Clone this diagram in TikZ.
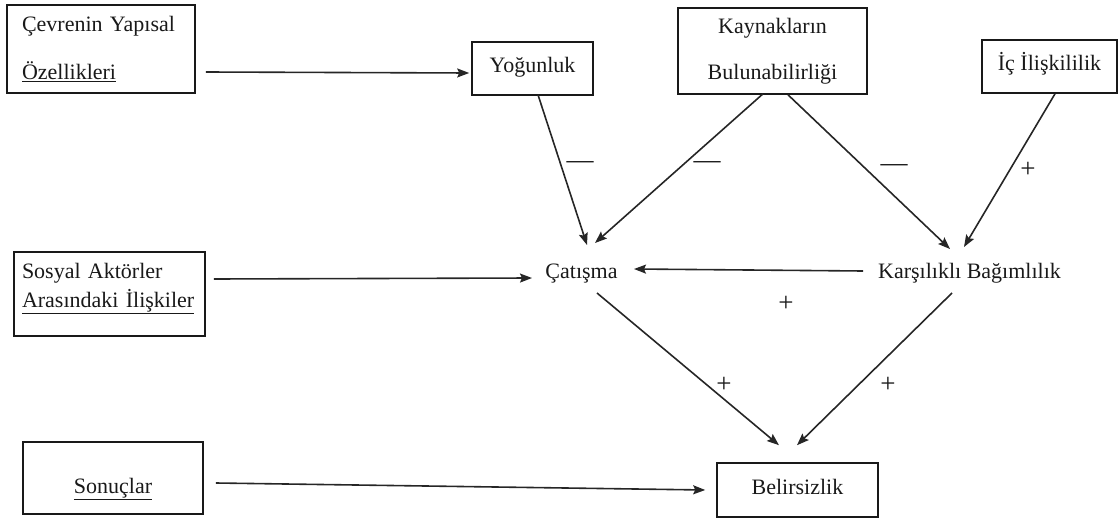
\documentclass[tikz,border=0pt]{standalone}
\usepackage{fontspec}
\setmainfont{Liberation Serif}
\usetikzlibrary{arrows.meta,calc}
\begin{document}
\begin{tikzpicture}[x=1pt,y=-1pt,
  box/.style={draw=black!90, line width=1.6pt, inner sep=0pt, text=black!90,
    font=\fontsize{22}{26}\selectfont},
  word/.style={inner sep=0pt, text=black!90, font=\fontsize{22}{26}\selectfont},
  sign/.style={inner sep=0pt, text=black!90, font=\fontsize{27}{30}\selectfont},
  arr/.style={draw=black!85, line width=1.6pt,
    -{Stealth[length=12pt,width=9pt,inset=2pt]}}]
\useasboundingbox (0,0) rectangle (1120,519);

% boxed factors
\node[box, minimum width=188, minimum height=88, text width=158, align=left]
  (cev) at (101,49) {Çevrenin Yapısal\\[22pt]\underline{Özellikleri}};
\node[box, minimum width=121, minimum height=53, text height=15pt, text depth=6pt]
  (yog) at (532.5,68.5) {Yoğunluk};
\node[box, minimum width=189, minimum height=86, text width=189, align=center]
  (kay) at (772.5,51) {Kaynakların\\[20pt]Bulunabilirliği};
\node[box, minimum width=135, minimum height=53, text height=15pt, text depth=6pt]
  (ic) at (1049.5,66.5) {İç İlişkililik};
\node[box, minimum width=191, minimum height=84, text width=175, align=left,
  text height=15pt, text depth=47pt]
  (sos) at (109.5,294) {Sosyal Aktörler\\[3pt]\underline{Arasındaki İlişkiler}};
\node[box, minimum width=180, minimum height=72, text height=36pt, text depth=6pt]
  (son) at (113,478) {\underline{Sonuçlar}};
\node[box, minimum width=161, minimum height=54, text height=15pt, text depth=6pt]
  (bel) at (797.5,490) {Belirsizlik};

% unboxed concepts
\node[word, anchor=base] (cat) at (581.5,278) {Çatışma};
\node[word, anchor=base] (kar) at (969.5,278) {Karşılıklı Bağımlılık};

% relations
\draw[arr] ($(cev.east)+(10,23)$) -- ($(yog.west)+(-2,4.5)$);
\draw[arr] ($(yog.south)+(5.5,-1)$) -- ($(cat.base)+(5.5,-33)$);
\draw[arr] ($(kay.south)+(-9.5,-1)$) -- ($(cat.base)+(13.5,-35)$);
\draw[arr] ($(kay.south)+(15.5,0)$) -- ($(kar.base)+(-19.5,-29)$);
\draw[arr] ($(ic.south)+(5.5,0)$) -- ($(kar.base)+(-5.5,-31)$);
\draw[arr] ($(sos.east)+(8,-15)$) -- ($(cat.base)+(-49.5,0)$);
\draw[arr] ($(kar.base)+(-106.5,-7)$) -- ($(cat.base)+(52.5,-9)$);
\draw[arr] ($(cat.base)+(15.5,15)$) -- ($(bel.north)+(-18.5,-17)$);
\draw[arr] ($(kar.base)+(-17.5,15)$) -- ($(bel.north)+(-0.5,-17)$);
\draw[arr] ($(son.east)+(12,5)$) -- ($(bel.west)+(-11,0)$);

% signs of the relations
\node[sign] (s1) at (580,165) {—};
\node[sign] (s2) at (707,165) {—};
\node[sign] (s3) at (894,168) {—};
\node[sign] (s4) at (1028,170) {+};
\node[sign] (s5) at (786,304) {+};
\node[sign] (s6) at (724,385) {+};
\node[sign] (s7) at (888,385) {+};
\end{tikzpicture}
\end{document}
